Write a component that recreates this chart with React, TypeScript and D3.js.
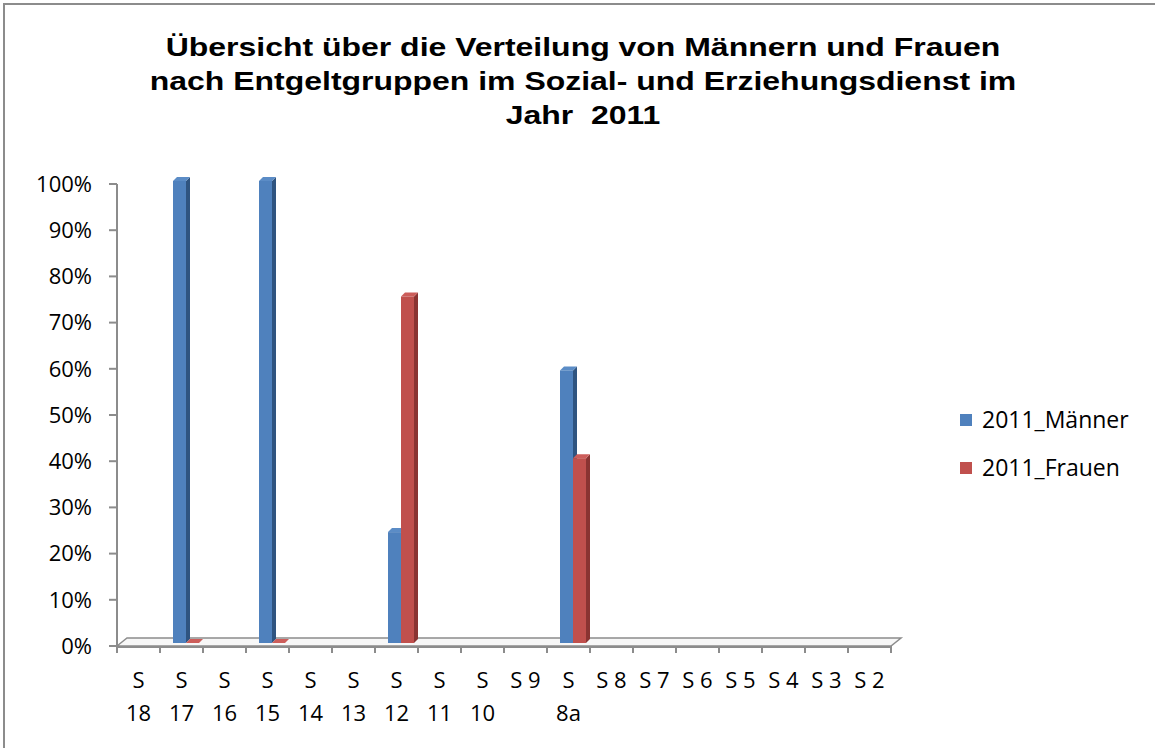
import React from 'react';
import * as d3 from 'd3';

const categories = ['S 18', 'S 17', 'S 16', 'S 15', 'S 14', 'S 13', 'S 12', 'S 11', 'S 10', 'S 9', 'S 8a', 'S 8', 'S 7', 'S 6', 'S 5', 'S 4', 'S 3', 'S 2'];
const maenner = [null, 100, null, 100, null, null, 24, null, null, null, 59, null, null, null, null, null, null, null];
const frauen = [null, 0, null, 0, null, null, 75, null, null, null, 40, null, null, null, null, null, null, null];
const seriesNames = ['2011_Männer', '2011_Frauen'];
const yTicks = [0, 10, 20, 30, 40, 50, 60, 70, 80, 90, 100];
const titleLines = ['Übersicht über die Verteilung von Männern und Frauen', 'nach Entgeltgruppen im Sozial- und Erziehungsdienst im', 'Jahr  2011'];

const colors = [
  { front: '#4f81bd', side: '#2f5480', top: '#5b8cc6' },
  { front: '#c0504d', side: '#8a3432', top: '#cc5d5a' },
];

const W = 1155;
const H = 748;
const axisColor = '#8c8c8c';
const font = '"Open Sans", sans-serif';

const App = () => {
  const x = d3.scaleBand().domain(categories).range([117, 891]).padding(0);
  const y = d3.scaleLinear().domain([0, 100]).range([646, 184]);
  const inner = d3.scaleBand().domain(seriesNames).range([0, 26]).padding(0);

  const dx = 4;
  const dy = 4;
  const lift = 3;
  const floorDx = 10;
  const floorDy = 8;
  const series = [maenner, frauen];

  const bars: any[] = [];
  categories.forEach((c, i) => {
    series.forEach((vals, s) => {
      const v = vals[i];
      if (v === null || v === undefined) return;
      const x0 = (x(c) as number) + 13 + (inner(seriesNames[s]) as number);
      const w = inner.bandwidth();
      const bottom = y(0) - lift;
      const top = y(v) - lift;
      const col = colors[s];
      bars.push(
        <g key={c + s}>
          <polygon
            points={`${x0 + w},${top} ${x0 + w + dx},${top - dy} ${x0 + w + dx},${bottom - dy} ${x0 + w},${bottom}`}
            fill={col.side}
          />
          <polygon
            points={`${x0},${top} ${x0 + dx},${top - dy} ${x0 + w + dx},${top - dy} ${x0 + w},${top}`}
            fill={col.top}
          />
          {v > 0 && <rect x={x0} y={top} width={w} height={bottom - top} fill={col.front} />}
        </g>
      );
    });
  });

  const x0 = 117;
  const x1 = 891;
  const yBase = y(0);

  return (
    <svg width={W} height={H} style={{ position: 'absolute', left: 0, top: 0, background: '#fff' }}>
      <rect x={4} y={4} width={W + 10} height={H + 10} fill="#fff" stroke={axisColor} strokeWidth={2} />

      {/* title, stretched sideways like the source */}
      <g
        transform="translate(583,0) scale(1.23,1)"
        fontFamily='"Liberation Sans", Arial, sans-serif'
        fontWeight="bold"
        fontSize={26}
        textAnchor="middle"
      >
        {titleLines.map((t, i) => (
          <text key={i} x={0} y={56 + i * 34} style={{ whiteSpace: 'pre' }}>{t}</text>
        ))}
      </g>

      {/* floor */}
      <polygon
        points={`${x0},${yBase} ${x0 + floorDx},${yBase - floorDy} ${x1 + floorDx},${yBase - floorDy} ${x1},${yBase}`}
        fill="#f7f7f7"
        stroke={axisColor}
        strokeWidth={1.5}
      />

      {/* y axis */}
      <line x1={x0} x2={x0} y1={y(100)} y2={yBase + 6} stroke={axisColor} strokeWidth={2} />
      <g fontFamily={font} fontSize={22} textAnchor="end">
        {yTicks.map(t => (
          <g key={t} transform={`translate(0,${y(t)})`}>
            <line x1={x0 - 8} x2={x0} stroke={axisColor} strokeWidth={2} />
            <text x={92} dy="0.35em" fill="#000">{t + '%'}</text>
          </g>
        ))}
      </g>

      {/* x axis */}
      <line x1={x0} x2={x1} y1={yBase + 1} y2={yBase + 1} stroke={axisColor} strokeWidth={2} />
      {[...categories.map(c => x(c) as number), x1].map((t, i) => (
        <line key={i} x1={t} x2={t} y1={yBase} y2={yBase + 7} stroke={axisColor} strokeWidth={2} />
      ))}
      <g fontFamily={font} fontSize={22} textAnchor="middle" fill="#000">
        {categories.map(c => {
          const cx = (x(c) as number) + x.bandwidth() / 2;
          const lines = c.length > 3 ? c.split(' ') : [c];
          return (
            <text key={c} x={cx} y={688} style={{ whiteSpace: 'pre' }}>
              {lines.map((l, i) => (
                <tspan key={i} x={cx} dy={i === 0 ? 0 : 33}>{l}</tspan>
              ))}
            </text>
          );
        })}
      </g>

      {bars}

      {/* legend */}
      <g fontFamily={font} fontSize={23}>
        {seriesNames.map((n, i) => (
          <g key={n} transform={`translate(960,${420 + i * 48})`}>
            <rect x={0} y={-6} width={12} height={12} fill={colors[i].front} />
            <text x={22} dy="0.35em" fill="#000">{n}</text>
          </g>
        ))}
      </g>
    </svg>
  );
};

export default App;
